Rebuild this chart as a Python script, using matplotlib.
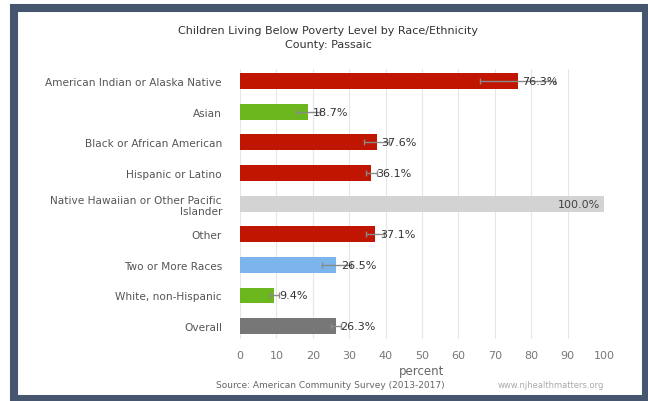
import matplotlib
matplotlib.use("Agg")
import matplotlib.pyplot as plt
from matplotlib.patches import Rectangle

categories = [
    "American Indian or Alaska Native",
    "Asian",
    "Black or African American",
    "Hispanic or Latino",
    "Native Hawaiian or Other Pacific\nIslander",
    "Other",
    "Two or More Races",
    "White, non-Hispanic",
    "Overall",
]
values = [76.3, 18.7, 37.6, 36.1, 100.0, 37.1, 26.5, 9.4, 26.3]
# margin of error (half width)
errors = [10.3, 3.4, 3.4, 1.5, 0.0, 2.5, 4.1, 1.2, 1.4]
colors = ["#c01500", "#6cb71e", "#c01500", "#c01500", "#d3d3d3",
          "#c01500", "#7cb5ec", "#6cb71e", "#777777"]
xticks = list(range(0, 101, 10))

W, H = 648, 402
fig = plt.figure(figsize=(W / 100, H / 100), dpi=100)
fig.patch.set_facecolor("white")

# dark frame round the chart
frame = Rectangle((14 / W, 2 / H), 632 / W, 391 / H, transform=fig.transFigure,
                  fill=False, edgecolor="#46566e", linewidth=5.8)
fig.patches.append(frame)

ax = fig.add_axes([240 / W, 1 - 340 / H, 364 / W, 270 / H])
ypos = list(range(len(categories)))
ax.barh(ypos, values, height=0.52, color=colors, zorder=2)
for y, v, e in zip(ypos, values, errors):
    if e > 0:
        ax.errorbar(v, y, xerr=e, fmt="none", ecolor="#8a8a8a", elinewidth=1,
                    capsize=2, capthick=1, zorder=3)
    if v >= 100:
        ax.text(v - 1, y, f"{v:.1f}%", ha="right", va="center", fontsize=8,
                color="#444444", zorder=4)
    else:
        ax.text(v + 1.3, y, f"{v:.1f}%", ha="left", va="center", fontsize=8,
                color="#333333", zorder=4)

ax.set_xlim(0, 100)
ax.set_ylim(8.42, -0.39)
ax.set_xticks(xticks)
ax.set_yticks(ypos)
ax.set_yticklabels(categories, fontsize=7.6, color="#555555")
ax.tick_params(axis="x", length=0, labelsize=8, labelcolor="#777777", pad=8)
ax.tick_params(axis="y", length=0, pad=13)
ax.grid(axis="x", color="#e6e6e6", linewidth=0.8, zorder=0)
for s in ax.spines.values():
    s.set_visible(False)
ax.set_xlabel("percent", fontsize=8.5, color="#666666", labelpad=3)

fig.text(328 / W, 1 - 31 / H, "Children Living Below Poverty Level by Race/Ethnicity",
         ha="center", va="center", fontsize=8, color="#333333")
fig.text(328 / W, 1 - 45 / H, "County: Passaic", ha="center", va="center",
         fontsize=8, color="#333333")
fig.text(330 / W, 1 - 386 / H, "Source: American Community Survey (2013-2017)",
         ha="center", va="center", fontsize=6.5, color="#666666")
fig.text(604 / W, 1 - 386 / H, "www.njhealthmatters.org", ha="right", va="center",
         fontsize=6, color="#aaaaaa")

fig.savefig("out.png", dpi=100)
